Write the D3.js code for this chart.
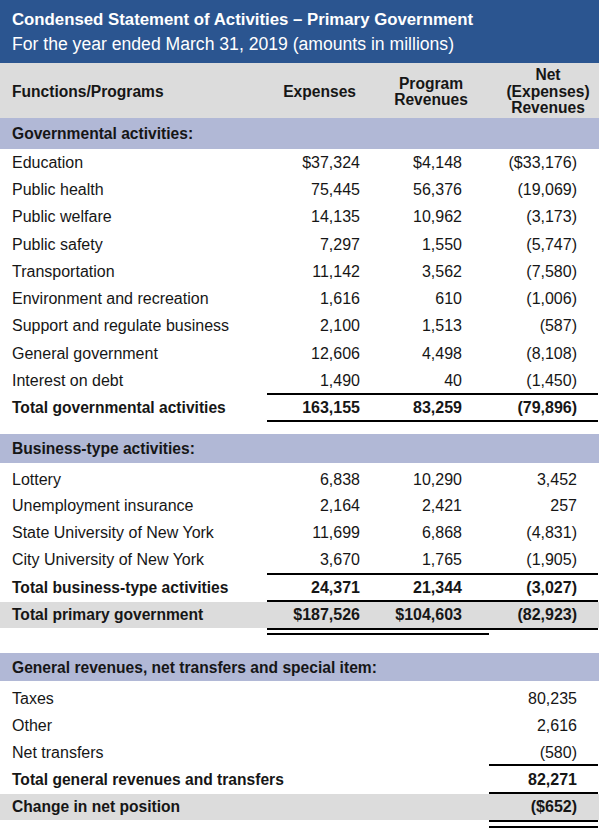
<!DOCTYPE html>
<html><head><meta charset="utf-8">
<script src="https://cdn.jsdelivr.net/npm/d3@7"></script>
<style>body{margin:0;background:#fff}svg{display:block;font-family:"Liberation Sans",Arial,Helvetica,sans-serif}</style>
</head><body><svg id="c" width="600" height="834"></svg>
<script>
const title = "Condensed Statement of Activities – Primary Government";
const subtitle = "For the year ended March 31, 2019 (amounts in millions)";
const columns = ["Expenses", "Program Revenues", "Net (Expenses) Revenues"];

const govNames = ["Education","Public health","Public welfare","Public safety","Transportation","Environment and recreation","Support and regulate business","General government","Interest on debt"];
const govExpenses = [37324,75445,14135,7297,11142,1616,2100,12606,1490];
const govProgram = [4148,56376,10962,1550,3562,610,1513,4498,40];
const govNet = [-33176,-19069,-3173,-5747,-7580,-1006,-587,-8108,-1450];
const govTotal = [163155,83259,-79896];

const bizNames = ["Lottery","Unemployment insurance","State University of New York","City University of New York"];
const bizExpenses = [6838,2164,11699,3670];
const bizProgram = [10290,2421,6868,1765];
const bizNet = [3452,257,-4831,-1905];
const bizTotal = [24371,21344,-3027];

const primaryTotal = [187526,104603,-82923];

const genNames = ["Taxes","Other","Net transfers"];
const genValues = [80235,2616,-580];
const genTotal = 82271;
const changeInNet = -652;

const BLUE="#2b5590", GREY="#dcdcdc", LAV="#b1b8d6", INK="#161616";
const svg = d3.select("#c");
const W = 599;
const FS = 16;
const fmt = (v, dollar) => {
  let s = d3.format(",")(Math.abs(v));
  if (dollar) s = "$" + s;
  return v < 0 ? "(" + s + ")" : s;
};
const colX = d3.scaleOrdinal().domain(["exp","prog","net"]).range([360,462,577]);

function rect(y0,y1,fill){svg.append("rect").attr("x",0).attr("y",y0).attr("width",W).attr("height",y1-y0).attr("fill",fill);}
function hline(y,x0,x1){svg.append("line").attr("x1",x0).attr("x2",x1).attr("y1",y).attr("y2",y).attr("stroke","#000").attr("stroke-width",1.8);}
function txt(x,y,s,o={}){
  return svg.append("text").attr("x",x).attr("y",y).attr("dy","0.36em")
    .attr("font-size",o.size||FS).attr("font-weight",o.bold?"bold":"normal")
    .attr("fill",o.fill||INK).attr("text-anchor",o.anchor||"start").text(s);
}
// dollars: array of booleans per column
function row(y,label,vals,bold,dollars,lsize){
  txt(12,y,label,{bold,size:lsize});
  const keys=["exp","prog","net"];
  vals.forEach((v,i)=>{ if(v!==null) txt(colX(keys[i]),y,fmt(v,dollars[i]),{bold,anchor:"end"}); });
}
const NO=[false,false,false];

// Title
rect(0,63,BLUE);
txt(12,19,title,{size:16.8,bold:true,fill:"#fff"});
txt(12,44,subtitle,{size:17.6,fill:"#fff"});

// Header
rect(63,118,GREY);
const HS=15.6;
txt(12,91,"Functions/Programs",{bold:true,size:HS});
txt(356,91,columns[0],{bold:true,anchor:"end",size:HS});
txt(431,83,"Program",{bold:true,anchor:"middle",size:HS});
txt(431,99,"Revenues",{bold:true,anchor:"middle",size:HS});
txt(548,74,"Net",{bold:true,anchor:"middle",size:HS});
txt(548,91,"(Expenses)",{bold:true,anchor:"middle",size:HS});
txt(548,107,"Revenues",{bold:true,anchor:"middle",size:HS});

// Governmental
rect(118,149,LAV);
txt(12,133.5,"Governmental activities:",{bold:true,size:HS});
const yGov = d3.scalePoint().domain(govNames).range([162,380]);
govNames.forEach((n,i)=>row(yGov(n),n,[govExpenses[i],govProgram[i],govNet[i]],false,i===0?[true,true,true]:NO));
hline(394,267,598);
row(407.5,"Total governmental activities",govTotal,true,NO,HS);
hline(421,267,598);

// Business
rect(434,463,LAV);
txt(12,448.5,"Business-type activities:",{bold:true,size:HS});
const yBiz = d3.scalePoint().domain(bizNames).range([479,559]);
bizNames.forEach((n,i)=>row(yBiz(n),n,[bizExpenses[i],bizProgram[i],bizNet[i]],false,NO));
hline(574,267,598);
row(587.5,"Total business-type activities",bizTotal,true,NO,HS);
rect(602,628,GREY);
hline(601,267,598);
row(614.5,"Total primary government",primaryTotal,true,[true,true,false],HS);
hline(629,267,598);
hline(634,267,489);

// General revenues
rect(653,681,LAV);
txt(12,667,"General revenues, net transfers and special item:",{bold:true,size:HS});
const yGen = d3.scalePoint().domain(genNames).range([698,752]);
genNames.forEach((n,i)=>row(yGen(n),n,[null,null,genValues[i]],false,NO));
hline(765,489,598);
row(779,"Total general revenues and transfers",[null,null,genTotal],true,NO,HS);
rect(794,820,GREY);
hline(793,489,598);
row(806.5,"Change in net position",[null,null,changeInNet],true,[false,false,true],HS);
hline(821,489,598);
hline(827,489,598);
</script></body></html>
